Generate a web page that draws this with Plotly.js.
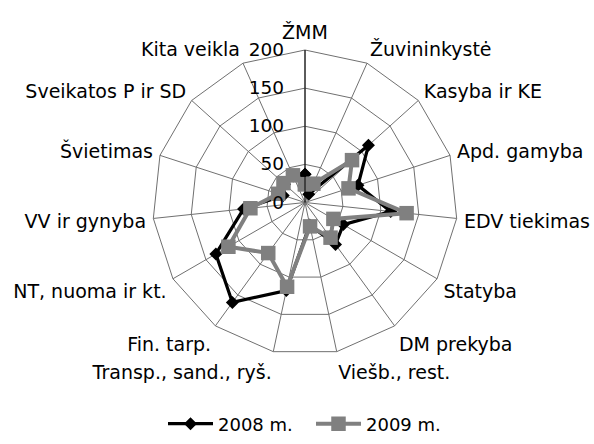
<!DOCTYPE html>
<html>
<head>
<meta charset="utf-8">
<script src="https://cdn.plot.ly/plotly-3.0.1.min.js"></script>
<style>html,body{margin:0;padding:0;background:#fff;}#chart{width:594px;height:444px;}</style>
</head>
<body>
<div id="chart"></div>
<script>
const categories = ["ŽMM", "Žuvininkystė", "Kasyba ir KE", "Apd. gamyba", "EDV tiekimas", "Statyba", "DM prekyba", "Viešb., rest.", "Transp., sand., ryš.", "Fin. tarp.", "NT, nuoma ir kt.", "VV ir gynyba", "Švietimas", "Sveikatos P ir SD", "Kita veikla"];
const values2008 = [37, 12, 112, 73, 113, 58, 68, 30, 118, 162, 135, 81, 30, 36, 38];
const values2009 = [24, 27, 83, 60, 134, 43, 57, 32, 113, 82, 116, 72, 37, 38, 39];
const radialTicks = [0, 50, 100, 150, 200];
const seriesNames = ["2008 m.", "2009 m."];

function closed(arr) { return arr.concat([arr[0]]); }

const FONT = "'DejaVu Sans', sans-serif";
const GRID = "#707070";

const data = [
  {
    type: "scatterpolar",
    r: closed(values2008),
    theta: closed(categories),
    mode: "lines+markers",
    name: seriesNames[0],
    line: {color: "#000000", width: 3.25},
    marker: {symbol: "diamond", size: 10, color: "#000000"}
  },
  {
    type: "scatterpolar",
    r: closed(values2009),
    theta: closed(categories),
    mode: "lines+markers",
    name: seriesNames[1],
    line: {color: "#808080", width: 4},
    marker: {symbol: "square", size: 14.5, color: "#808080"}
  }
];

const layout = {
  width: 594,
  height: 444,
  margin: {l: 0, r: 0, t: 0, b: 0, autoexpand: false},
  paper_bgcolor: "#ffffff",
  plot_bgcolor: "#ffffff",
  font: {family: FONT, size: 19, color: "#000000"},
  showlegend: true,
  legend: {
    orientation: "h",
    x: 163 / 594, xanchor: "left",
    y: 20 / 444, yanchor: "middle",
    itemwidth: 45,
    entrywidth: 88,
    entrywidthmode: "pixels",
    font: {family: FONT, size: 18, color: "#000000"}
  },
  polar: {
    domain: {x: [152.5 / 594, 457.5 / 594], y: [89 / 444, 394 / 444]},
    gridshape: "linear",
    bgcolor: "#ffffff",
    radialaxis: {
      range: [0, 200],
      tickvals: radialTicks,
      ticktext: radialTicks.map(String),
      angle: 90,
      tickangle: 90,
      side: "counterclockwise",
      showline: true,
      linecolor: "#000000",
      linewidth: 1,
      gridcolor: GRID,
      gridwidth: 1,
      ticks: "outside",
      ticklen: 14,
      tickcolor: "rgba(0,0,0,0)",
      tickfont: {family: FONT, size: 18.5, color: "#000000"}
    },
    angularaxis: {
      type: "category",
      categoryarray: categories,
      direction: "clockwise",
      rotation: 90,
      showline: true,
      linecolor: GRID,
      linewidth: 1,
      gridcolor: GRID,
      gridwidth: 1,
      ticks: "outside",
      ticklen: 3,
      tickcolor: "rgba(0,0,0,0)",
      tickfont: {family: FONT, size: 19, color: "#000000"}
    }
  }
};

Plotly.newPlot("chart", data, layout, {displayModeBar: false, staticPlot: true});
</script>
</body>
</html>
